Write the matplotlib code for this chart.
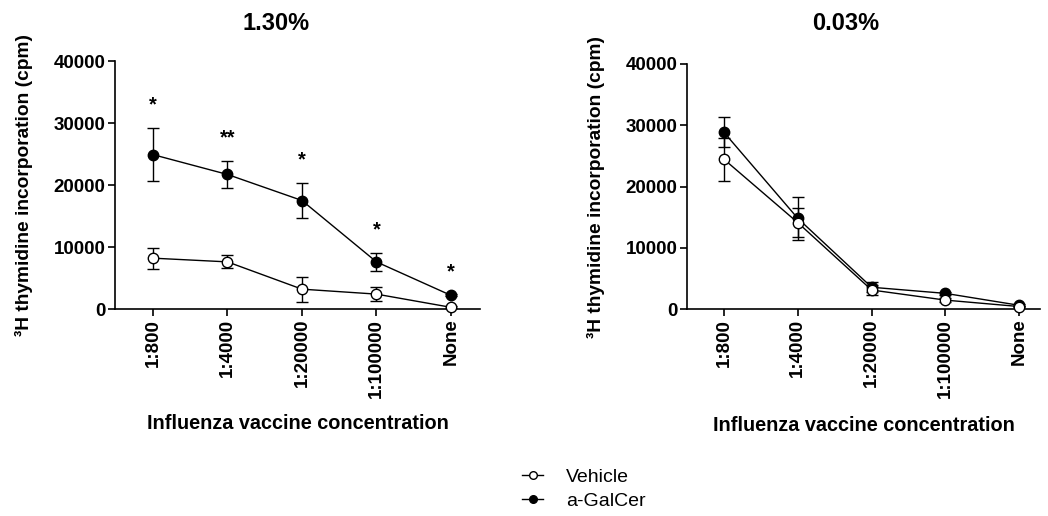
import matplotlib
matplotlib.use("Agg")
import matplotlib.pyplot as plt
from matplotlib.lines import Line2D

plt.rcParams['font.family'] = ['Liberation Sans', 'DejaVu Sans']

categories = ["1:800", "1:4000", "1:20000", "1:100000", "None"]

# Panel 1 (1.30%)
veh1 = [8200, 7600, 3200, 2400, 270]
veh1_err = [1700, 1050, 2000, 1100, 150]
gal1 = [24900, 21700, 17500, 7600, 2200]
gal1_err = [4300, 2200, 2900, 1450, 150]
stars1 = ["*", "**", "*", "*", "*"]

# Panel 2 (0.03%)
veh2 = [24450, 14100, 3100, 1450, 400]
veh2_err = [3500, 2400, 800, 300, 150]
gal2 = [28850, 14800, 3550, 2550, 600]
gal2_err = [2450, 3500, 800, 300, 150]

titles = ["1.30%", "0.03%"]
ylabel = "³H thymidine incorporation (cpm)"
xlabel = "Influenza vaccine concentration"
yticks = [0, 10000, 20000, 30000, 40000]
legend_labels = ["Vehicle", "a-GalCer"]

fig = plt.figure(figsize=(10.48, 5.16), dpi=100)
ax1 = fig.add_axes([115/1048, 1-309/516, (480-115)/1048, (309-61)/516])
ax2 = fig.add_axes([687/1048, 1-309/516, (1040-687)/1048, (309-64)/516])

x = list(range(len(categories)))

def draw(ax, veh, veh_err, gal, gal_err, xlim, ylab_x, xlab_y):
    ax.errorbar(x, gal, yerr=gal_err, color='black', marker='o', markersize=7.5,
                markerfacecolor='black', markeredgecolor='black', lw=1.0,
                capsize=4, elinewidth=1.0, capthick=1.0, zorder=3, clip_on=False)
    ax.errorbar(x, veh, yerr=veh_err, color='black', marker='o', markersize=7.5,
                markerfacecolor='white', markeredgecolor='black', lw=1.0,
                capsize=4, elinewidth=1.0, capthick=1.0, zorder=4, clip_on=False)
    ax.set_ylim(0, 40000)
    ax.set_xlim(*xlim)
    ax.set_yticks(yticks)
    ax.set_yticklabels([str(t) for t in yticks], fontweight='bold', fontsize=13.5)
    ax.set_xticks(x)
    ax.set_xticklabels(categories, rotation=90, fontweight='bold', fontsize=13.5)
    for s in ['top', 'right']:
        ax.spines[s].set_visible(False)
    for s in ['left', 'bottom']:
        ax.spines[s].set_linewidth(1.2)
    ax.tick_params(direction='out', length=5, width=1.2, pad=2)
    ax.set_ylabel(ylabel, fontweight='bold', fontsize=13.8)
    ax.yaxis.set_label_coords(ylab_x, 0.5)
    ax.set_xlabel(xlabel, fontweight='bold', fontsize=14.3)
    ax.xaxis.set_label_coords(0.5, xlab_y)
    ax.xaxis.label.set_va('center')
    ax.yaxis.label.set_va('center')

draw(ax1, veh1, veh1_err, gal1, gal1_err, (-0.51, 4.39), -0.25, -0.46)
draw(ax2, veh2, veh2_err, gal2, gal2_err, (-0.5, 4.28), -0.258, -0.475)

for xi, m, e, s in zip(x, gal1, gal1_err, stars1):
    ax1.annotate(s, xy=(xi, m + e), xytext=(0, 12.5), textcoords='offset points',
                 ha='center', va='baseline', fontsize=14.5, fontweight='bold')

fig.text(276/1048, 1-23/516, titles[0], ha='center', va='center',
         fontweight='bold', fontsize=17)
fig.text(846/1048, 1-23/516, titles[1], ha='center', va='center',
         fontweight='bold', fontsize=17)

handles = [
    Line2D([], [], color='black', lw=1.0, marker='o', markersize=5.5,
           markerfacecolor='white', markeredgecolor='black'),
    Line2D([], [], color='black', lw=1.0, marker='o', markersize=5.5,
           markerfacecolor='black', markeredgecolor='black'),
]
fig.legend(handles, legend_labels, loc='center left',
           bbox_to_anchor=(522/1048, 1-489/516), frameon=False, fontsize=14,
           handlelength=1.08, labelspacing=0.3, handletextpad=1.18,
           borderpad=0, borderaxespad=0)

fig.savefig("out.png", dpi=100)
